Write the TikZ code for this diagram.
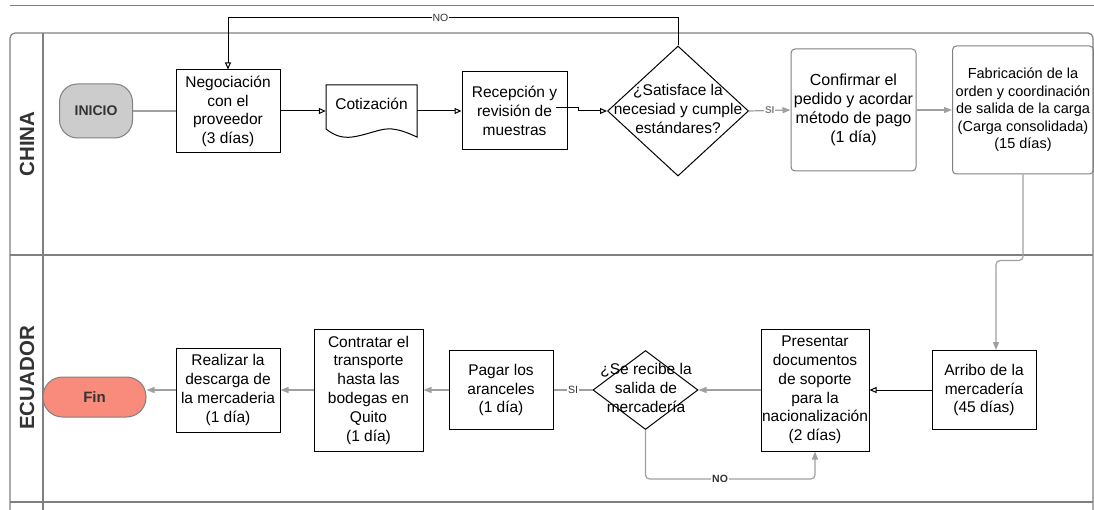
\documentclass[tikz,border=0pt]{standalone}
\usepackage{fontspec}
\setmainfont{Liberation Sans}
\usetikzlibrary{arrows.meta,shapes.geometric,calc}
\definecolor{lanec}{HTML}{808080}
\definecolor{conc}{HTML}{A0A0A0}
\definecolor{inic}{HTML}{CCCCCC}
\definecolor{finc}{HTML}{F88B7C}
\definecolor{txtd}{HTML}{333333}
\newcommand\bxfont{\fontsize{15.5}{18.8}\selectfont}
\begin{document}
\begin{tikzpicture}[x=1pt,y=-1pt,
  lane/.style={draw=lanec,line width=1.2pt},
  box/.style={draw=black,line width=1pt,align=center,inner sep=1pt,font=\bxfont},
  rbox/.style={box,draw=lanec,rounded corners=4pt},
  term/.style={draw=lanec,line width=1pt,font=\bfseries\fontsize{14}{14}\selectfont,text=txtd},
  dia/.style={diamond,draw=black,line width=1pt,inner sep=0pt},
  dtext/.style={align=center,font=\bxfont,inner sep=0pt},
  blk/.style={draw=black,line width=1pt,-{Triangle[open,length=7pt,width=6pt]}},
  gry/.style={draw=conc,line width=1.2pt,-{Triangle[length=8pt,width=6pt]}},
  gline/.style={draw=conc,line width=1.2pt},
  lbl/.style={fill=white,inner sep=1pt,font=\fontsize{10.5}{10.5}\selectfont,text=txtd},
  lanelbl/.style={rotate=90,font=\bfseries\fontsize{20.5}{20.5}\selectfont,text=txtd}
]
\useasboundingbox (0,0) rectangle (1094,510);

% pool frame
\draw[draw=lanec,line width=1pt] (10,6) -- (1094,6);
\draw[lane,rounded corners=5pt] (10,510) -- (10,33) -- (1093,33) -- (1093,510);
\draw[lane] (43,33) -- (43,510);
\draw[lane] (10,255) -- (1093,255);
\draw[lane] (10,502) -- (1093,502);
\node[lanelbl] (lchina) at (27,144) {CHINA};
\node[lanelbl] (lecu) at (27,378) {ECUADOR};

% CHINA lane
\node[term,fill=inic,minimum width=73pt,minimum height=54pt,rounded corners=18pt] (ini) at (96,111) {INICIO};
\node[box,minimum width=104pt,minimum height=83pt] (neg) at (228,111.5) {Negociación\\con el\\proveedor\\(3 días)};
\node[minimum width=91pt,minimum height=52pt,inner sep=0pt] (cot) at (371.5,111) {};
\draw[draw=black,line width=1pt] (326,85) -- (417,85) -- (417,137)
  .. controls (410,134) and (402,130) .. (392,129)
  .. controls (382,128) and (372,133) .. (358,136)
  .. controls (345,139) and (336,137) .. (326,129) -- cycle;
\node[font=\bxfont] (cott) at (371.5,104) {Cotización};
\node[box,minimum width=105pt,minimum height=78pt] (rec) at (514.5,111) {Recepción y\\revisión de\\muestras};
\node[dia,minimum width=141pt,minimum height=130pt] (d1) at (678,111) {};
\node[dtext] (d1t) at (678,109) {¿Satisface la\\necesiad y cumple\\estándares?};
\node[rbox,minimum width=125pt,minimum height=122pt,font=\fontsize{16}{19}\selectfont] (conf) at (853.5,110) {Confirmar el\\pedido y acordar\\método de pago\\(1 día)};
\node[rbox,minimum width=141pt,minimum height=128pt,font=\fontsize{14.5}{17.5}\selectfont] (fab) at (1023,110) {Fabricación de la\\orden y coordinación\\de salida de la carga\\(Carga consolidada)\\(15 días)};

% ECUADOR lane
\node[box,minimum width=104pt,minimum height=79pt] (arr) at (984,390) {Arribo de la\\mercadería\\(45 días)};
\node[box,minimum width=104pt,minimum height=122pt] (pres) at (815,390) {Presentar\\documentos\\de soporte\\para la\\nacionalización\\(2 días)};
\node[dia,minimum width=105pt,minimum height=79pt] (d2) at (645.5,390) {};
\node[dtext] (d2t) at (646,388) {¿Se recibe la\\salida de\\mercadería};
\node[box,minimum width=104pt,minimum height=79pt] (pag) at (501,390) {Pagar los\\aranceles\\(1 día)};
\node[box,minimum width=109pt,minimum height=122pt] (contr) at (368.5,390) {Contratar el\\transporte\\hasta las\\bodegas en\\Quito\\(1 día)};
\node[box,minimum width=104pt,minimum height=84pt] (real) at (228,390) {Realizar la\\descarga de\\la mercaderia\\(1 día)};
\node[term,fill=finc,minimum width=103pt,minimum height=40pt,rounded corners=19.5pt,font=\bfseries\fontsize{15}{15}\selectfont] (fin) at (94.5,397) {Fin};

% connectors CHINA
\draw[gline] (ini.east) -- (ini.east -| neg.west);
\draw[blk] (neg.east |- cot.west) -- (cot.west);
\draw[blk] (cot.east) -- (rec.west);
\draw[blk] ($(rec.east)+(-12,-3)$) -- ++(23,0) -- ++(0,3) -- (d1.west);
\draw[blk] (d1.north) -- ++(0,-28) -| node[lbl,pos=0.264] (lno1) {NO} (neg.north);
\draw[gry] (d1.east) -- node[lbl,pos=0.5,font=\bfseries\fontsize{10}{10}\selectfont,text=lanec] (lsi1) {SI} (conf.west);
\draw[gry] (conf.east) -- (conf.east -| fab.west);
\draw[gry,rounded corners=4pt] (fab.south) -- ++(0,86) -| ([xshift=12pt]arr.north);

% connectors ECUADOR
\draw[blk] (arr.west) -- (pres.east);
\draw[gry] (pres.west) -- (d2.east);
\draw[gry,rounded corners=4pt] (d2.south) -- ++(0,49) -| node[lbl,pos=0.22,font=\bfseries\fontsize{10.5}{10.5}\selectfont] (lno2) {NO} (pres.south);
\draw[gline] (d2.west) -- node[lbl,pos=0.5] (lsi2) {SI} (pag.east);
\draw[gry] (pag.west) -- (contr.east);
\draw[gry] (contr.west) -- (real.east);
\draw[gry] (real.west) -- (real.west -| fin.east);
\end{tikzpicture}
\end{document}
